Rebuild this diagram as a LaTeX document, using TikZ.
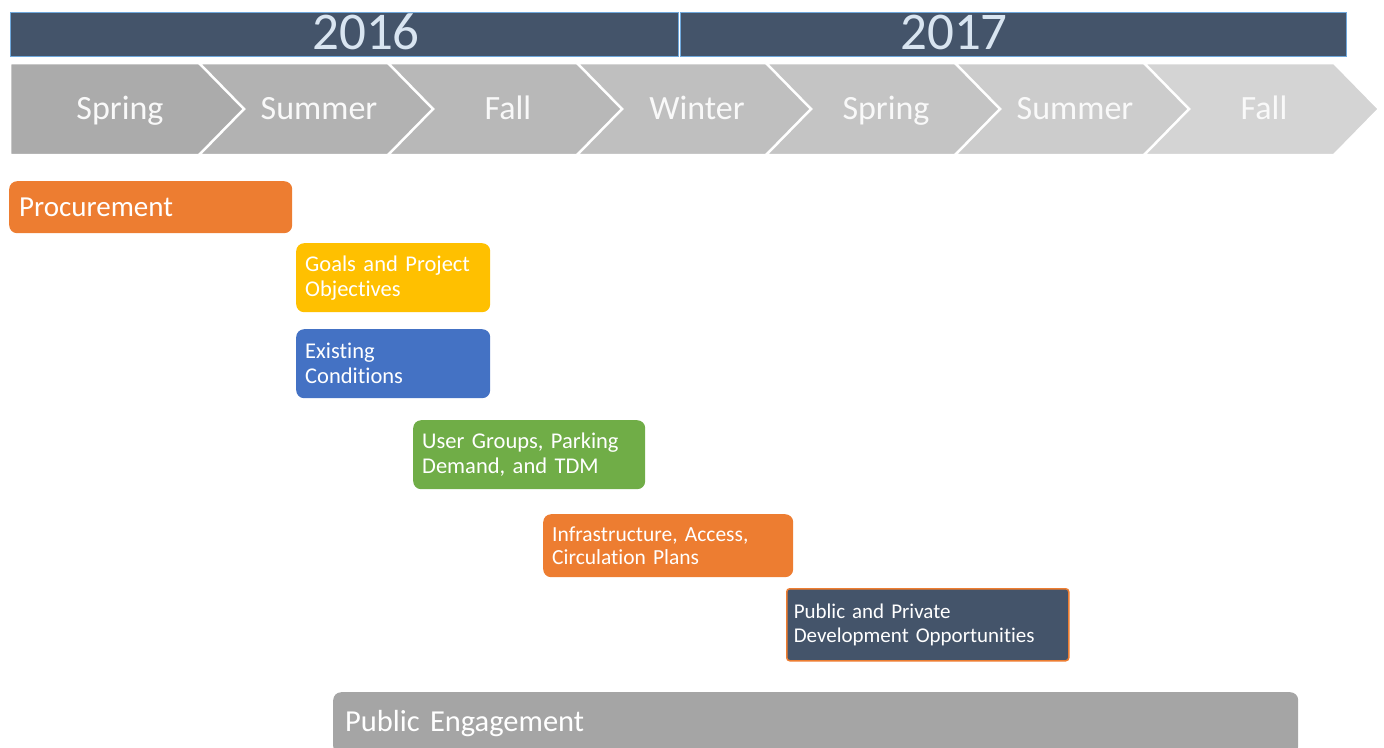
\documentclass[tikz,border=0pt]{standalone}
\usepackage{fontspec}
\setmainfont{Carlito}[Ligatures=NoCommon]
\usepackage{xcolor}
\usetikzlibrary{calc}
\definecolor{slate}{HTML}{44546A}
\definecolor{skyline}{HTML}{6FA8DC}
\definecolor{yeartxt}{HTML}{D9E5F1}
\definecolor{orng}{HTML}{ED7D31}
\definecolor{gold}{HTML}{FFC000}
\definecolor{blu}{HTML}{4472C4}
\definecolor{grn}{HTML}{70AD47}
\definecolor{engage}{HTML}{A5A5A5}
\tikzset{
	year/.style={draw=skyline, line width=0.8pt, fill=slate,
		minimum height=44pt, anchor=north west, inner sep=0pt},
	yearlabel/.style={text=yeartxt, font=\fontsize{53}{53}\selectfont},
	season/.style={text=white!95!gray, anchor=base, font=\fontsize{34}{34}\selectfont},
	task/.style={rounded corners=8pt, text=white, anchor=north west,
		align=left, inner xsep=9pt, inner ysep=0pt,
		font=\fontsize{22.5}{25}\selectfont}
}

\begin{document}
\begin{tikzpicture}[x=1pt,y=-1pt]
		\useasboundingbox (0,0) rectangle (1384,747);
		
		% year bars
		\node[year, minimum width=668pt] (y16) at (10,12) {};
		\node[year, minimum width=666pt] (y17) at (680,12) {};
		\node[yearlabel] (t16) at (366,32) {2016};
		\node[yearlabel] (t17) at (954,32) {2017};
		
		% season chevrons
		\foreach \i/\g in {0/33,1/30,2/28,3/25,4/23,5/20,6/17}
		{
			\pgfmathsetmacro{\L}{10+189*\i}
			\ifnum\i=0
				\fill[black!\g!white, draw=white, line width=2.5pt]
					(\L,63) -- ++(190,0) -- ++(45,46) -- ++(-45,46) -- (\L,155) -- cycle;
			\else
				\fill[black!\g!white, draw=white, line width=2.5pt]
					(\L,63) -- ++(190,0) -- ++(45,46) -- ++(-45,46) -- (\L,155) -- ++(45,-46) -- cycle;
			\fi
		}
		\fill[white] (0,155) rectangle (1384,160);
		\fill[white] (0,58) rectangle (1384,62);
		
		\foreach \x/\s [count=\k] in {120/Spring,319/Summer,508/Fall,697/Winter,886/Spring,1075/Summer,1264/Fall}
		{
			\node[season] (s\k) at (\x,119) {\s};
		}
		
		% work items
		\node[task, fill=orng, minimum width=283pt, minimum height=52pt, text width=263pt,
			inner xsep=10pt, font=\fontsize{29}{30}\selectfont] (proc) at (9,181) {Procurement};
		\node[task, fill=gold, minimum width=194pt, minimum height=69pt, text width=176pt]
			(goals) at (296,243) {Goals and Project\\Objectives};
		\node[task, fill=blu, minimum width=194pt, minimum height=69pt, text width=176pt]
			(exist) at (296,329) {Existing\\Conditions};
		\node[task, fill=grn, minimum width=232pt, minimum height=69pt, text width=214pt]
			(users) at (413,420) {User Groups, Parking\\Demand, and TDM};
		\node[task, fill=orng, minimum width=250pt, minimum height=63pt, text width=232pt,
			font=\fontsize{21.5}{23}\selectfont] (infra) at (543,514)
			{Infrastructure, Access,\\Circulation Plans};
		\node[task, fill=slate, draw=orng, line width=1.5pt, rounded corners=3pt,
			minimum width=282pt, minimum height=72pt, text width=268pt, inner xsep=7pt,
			font=\fontsize{21}{24}\selectfont] (devel) at (786,588)
			{Public and Private\\Development Opportunities};
		\node[task, fill=engage, minimum width=965pt, minimum height=62pt, text width=941pt,
			inner xsep=12pt, font=\fontsize{30.5}{32}\selectfont] (engage) at (333,692)
			{\raisebox{-3pt}{Public Engagement}};
	\end{tikzpicture}
\end{document}
